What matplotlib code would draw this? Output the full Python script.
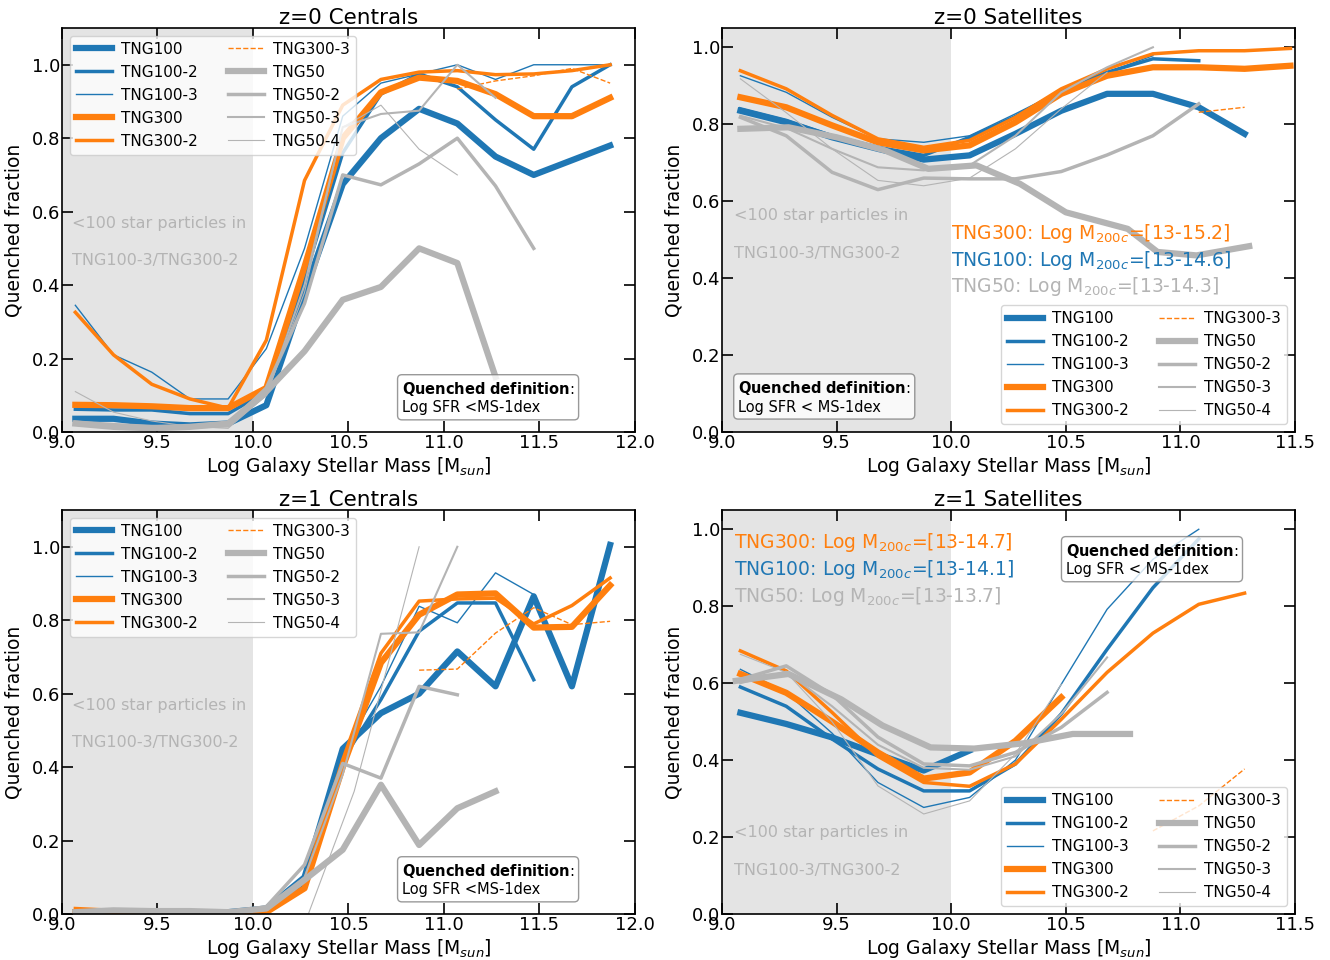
import numpy as np
import matplotlib.pyplot as plt

nan = np.nan

sim_names = ['TNG100', 'TNG100-2', 'TNG100-3', 'TNG300', 'TNG300-2', 'TNG300-3',
             'TNG50', 'TNG50-2', 'TNG50-3', 'TNG50-4']

# ---------------- z=0 centrals ----------------
z0c_mass = [9.07, 9.27, 9.47, 9.67, 9.87, 10.07, 10.27, 10.47, 10.67, 10.87, 11.07, 11.27, 11.47, 11.67, 11.87]
z0c_tng100   = [0.036, 0.036, 0.023, 0.018, 0.023, 0.073, 0.38, 0.675, 0.80, 0.88, 0.84, 0.75, 0.70, 0.74, 0.78]
z0c_tng100_2 = [0.062, 0.060, 0.060, 0.050, 0.050, 0.11, 0.42, 0.76, 0.92, 0.975, 0.94, 0.85, 0.77, 0.94, 1.0]
z0c_tng100_3 = [0.345, 0.21, 0.163, 0.09, 0.09, 0.227, 0.50, 0.86, 0.95, 0.975, 1.0, 0.96, 1.0, 1.0, 1.0]
z0c_tng300   = [0.074, 0.073, 0.07, 0.065, 0.065, 0.12, 0.45, 0.80, 0.925, 0.965, 0.956, 0.92, 0.86, 0.86, 0.91]
z0c_tng300_2 = [0.326, 0.21, 0.13, 0.09, 0.065, 0.25, 0.685, 0.89, 0.96, 0.98, 0.984, 0.973, 0.975, 0.984, 1.0]
z0c_tng300_3 = [nan, nan, nan, nan, nan, nan, nan, nan, nan, nan, 0.934, 0.956, 0.97, 0.99, 0.95]
z0c_tng50    = [0.023, 0.014, 0.01, 0.014, 0.023, 0.11, 0.22, 0.36, 0.395, 0.50, 0.46, 0.15, nan, nan, nan]
z0c_tng50_2  = [0.027, 0.02, 0.015, 0.015, 0.02, 0.12, 0.35, 0.70, 0.673, 0.73, 0.80, 0.67, 0.50, nan, nan]
z0c_tng50_3  = [0.02, 0.015, 0.012, 0.012, 0.015, 0.10, 0.40, 0.83, 0.866, 0.875, 1.0, 0.91, nan, nan, nan]
z0c_tng50_4  = [0.11, 0.054, 0.03, 0.015, 0.01, 0.10, 0.38, 0.83, 0.89, 0.77, 0.70, nan, nan, nan, nan]

# ---------------- z=0 satellites ----------------
z0s_mass = [9.08, 9.28, 9.48, 9.68, 9.88, 10.08, 10.28, 10.48, 10.68, 10.88, 11.08, 11.28, 11.48]
z0s_tng100   = [0.835, 0.805, 0.766, 0.736, 0.708, 0.719, 0.775, 0.835, 0.879, 0.879, 0.844, 0.775, nan]
z0s_tng100_2 = [0.84, 0.81, 0.77, 0.74, 0.719, 0.766, 0.82, 0.887, 0.935, 0.97, 0.965, nan, nan]
z0s_tng100_3 = [0.926, 0.883, 0.818, 0.762, 0.753, 0.77, 0.827, 0.887, 0.935, 0.978, nan, nan, nan]
z0s_tng300   = [0.87, 0.844, 0.797, 0.753, 0.732, 0.745, 0.805, 0.879, 0.926, 0.948, 0.948, 0.944, 0.952]
z0s_tng300_2 = [0.939, 0.892, 0.823, 0.762, 0.74, 0.758, 0.818, 0.892, 0.944, 0.983, 0.991, 0.991, 0.997]
z0s_tng300_3 = [nan, nan, nan, nan, nan, nan, nan, nan, nan, nan, 0.831, 0.844, nan]
z0s_tng50_mass = [9.08, 9.29, 9.5, 9.71, 9.9, 10.11, 10.3, 10.5, 10.77, 10.9, 11.07, 11.3]
z0s_tng50    = [0.788, 0.792, 0.766, 0.732, 0.684, 0.693, 0.645, 0.571, 0.528, 0.468, 0.459, 0.483]
z0s_tng50_2  = [0.818, 0.77, 0.675, 0.63, 0.66, 0.658, 0.658, 0.677, 0.72, 0.77, 0.853, nan, nan]
z0s_tng50_3  = [0.822, 0.79, 0.736, 0.688, 0.68, 0.693, 0.77, 0.883, 0.948, 1.0, nan, nan, nan]
z0s_tng50_4  = [0.918, 0.83, 0.736, 0.654, 0.64, 0.66, 0.736, 0.84, 0.935, nan, nan, nan, nan]

# ---------------- z=1 centrals ----------------
z1c_mass = [9.07, 9.27, 9.47, 9.67, 9.87, 10.07, 10.27, 10.47, 10.67, 10.87, 11.07, 11.27, 11.47, 11.67, 11.87]
z1c_tng100   = [0.005, 0.005, 0.005, 0.005, 0.005, 0.015, 0.10, 0.45, 0.547, 0.60, 0.715, 0.62, 0.865, 0.62, 1.005]
z1c_tng100_2 = [0.005, 0.005, 0.005, 0.005, 0.005, 0.015, 0.10, 0.42, 0.584, 0.77, 0.847, 0.847, 0.638, nan, nan]
z1c_tng100_3 = [0.003, 0.003, 0.003, 0.003, 0.003, 0.01, 0.08, 0.44, 0.62, 0.838, 0.793, 0.929, 0.87, nan, nan]
z1c_tng300   = [0.005, 0.005, 0.005, 0.005, 0.005, 0.005, 0.07, 0.40, 0.684, 0.815, 0.87, 0.873, 0.78, 0.782, 0.895]
z1c_tng300_2 = [0.015, 0.01, 0.008, 0.005, 0.005, 0.005, 0.09, 0.42, 0.71, 0.852, 0.858, 0.86, 0.79, 0.84, 0.915]
z1c_tng300_3 = [nan, nan, nan, nan, nan, nan, nan, nan, nan, 0.664, 0.667, 0.765, 0.834, 0.788, 0.797]
z1c_tng50    = [0.005, 0.01, 0.008, 0.008, 0.005, 0.015, 0.093, 0.175, 0.352, 0.188, 0.288, 0.334, nan, nan, nan]
z1c_tng50_2  = [0.005, 0.01, 0.008, 0.008, 0.005, 0.02, 0.134, 0.41, 0.37, 0.62, 0.597, nan, nan, nan, nan]
z1c_tng50_3  = [0.005, 0.008, 0.008, 0.008, 0.005, 0.015, 0.10, 0.38, 0.763, 0.767, 1.0, nan, nan, nan, nan]
z1c_tng50_4_mass = [10.07, 10.29, 10.53, 10.87]
z1c_tng50_4  = [0.0, 0.0, 0.334, 1.0]

# ---------------- z=1 satellites ----------------
z1s_mass = [9.08, 9.28, 9.48, 9.68, 9.88, 10.08, 10.28, 10.48, 10.68, 10.88, 11.08, 11.28]
z1s_tng100   = [0.523, 0.494, 0.459, 0.415, 0.373, 0.425, nan, nan, nan, nan, nan, nan]
z1s_tng100_2 = [0.59, 0.54, 0.455, 0.377, 0.32, 0.32, 0.39, 0.52, 0.688, 0.848, 0.975, nan]
z1s_tng100_3 = [0.636, 0.576, 0.47, 0.342, 0.277, 0.303, 0.40, 0.597, 0.792, 0.922, 1.0, nan]
z1s_tng300   = [0.624, 0.575, 0.50, 0.42, 0.352, 0.368, 0.45, 0.563, nan, nan, nan, nan]
z1s_tng300_2 = [0.684, 0.632, 0.524, 0.41, 0.342, 0.332, 0.39, 0.506, 0.628, 0.73, 0.805, 0.834]
z1s_tng300_3 = [nan, nan, nan, nan, nan, nan, nan, nan, nan, 0.216, 0.281, 0.377]
z1s_tng50_mass = [9.06, 9.29, 9.52, 9.7, 9.91, 10.1, 10.32, 10.53, 10.78]
z1s_tng50    = [0.606, 0.624, 0.558, 0.49, 0.433, 0.43, 0.444, 0.468, 0.468]
z1s_tng50_2  = [0.61, 0.645, 0.57, 0.46, 0.39, 0.385, 0.42, 0.485, 0.576, nan, nan, nan]
z1s_tng50_3  = [0.60, 0.63, 0.54, 0.44, 0.38, 0.375, 0.41, 0.52, 0.667, nan, nan, nan]
z1s_tng50_4  = [0.675, 0.628, 0.50, 0.333, 0.26, 0.294, 0.416, 0.597, nan, nan, nan, nan]

tng_blue = '#1f77b4'
tng_orange = '#ff7f0e'
tng_gray = '#b4b4b4'

styles = {
    'TNG100':   (tng_blue, 4.5, '-'),
    'TNG100-2': (tng_blue, 2.5, '-'),
    'TNG100-3': (tng_blue, 1.0, '-'),
    'TNG300':   (tng_orange, 4.5, '-'),
    'TNG300-2': (tng_orange, 2.5, '-'),
    'TNG300-3': (tng_orange, 1.0, '--'),
    'TNG50':    (tng_gray, 4.5, '-'),
    'TNG50-2':  (tng_gray, 2.5, '-'),
    'TNG50-3':  (tng_gray, 1.5, '-'),
    'TNG50-4':  (tng_gray, 0.8, '-'),
}


def grid(x, ys):
    return {n: (x, y) for n, y in zip(sim_names, ys)}


panel_z0c = grid(z0c_mass, [z0c_tng100, z0c_tng100_2, z0c_tng100_3, z0c_tng300, z0c_tng300_2,
                            z0c_tng300_3, z0c_tng50, z0c_tng50_2, z0c_tng50_3, z0c_tng50_4])
panel_z0s = grid(z0s_mass, [z0s_tng100, z0s_tng100_2, z0s_tng100_3, z0s_tng300, z0s_tng300_2,
                            z0s_tng300_3, z0s_tng50, z0s_tng50_2, z0s_tng50_3, z0s_tng50_4])
panel_z0s['TNG50'] = (z0s_tng50_mass, z0s_tng50)
panel_z1c = grid(z1c_mass, [z1c_tng100, z1c_tng100_2, z1c_tng100_3, z1c_tng300, z1c_tng300_2,
                            z1c_tng300_3, z1c_tng50, z1c_tng50_2, z1c_tng50_3, z1c_tng50_4])
panel_z1c['TNG50-4'] = (z1c_tng50_4_mass, z1c_tng50_4)
panel_z1s = grid(z1s_mass, [z1s_tng100, z1s_tng100_2, z1s_tng100_3, z1s_tng300, z1s_tng300_2,
                            z1s_tng300_3, z1s_tng50, z1s_tng50_2, z1s_tng50_3, z1s_tng50_4])
panel_z1s['TNG50'] = (z1s_tng50_mass, z1s_tng50)

qdef_bold = r'$\bf{Quenched\ definition}$:'


def draw(ax, series, xmax, ymax, title, legend_loc):
    ax.axvspan(9.0, 10.0, color='lightgray', alpha=0.6, lw=0, zorder=0)
    for name in sim_names:
        x, y = series[name]
        color, lw, ls = styles[name]
        ax.plot(x, y, color=color, lw=lw, ls=ls, label=name)
    ax.set_xlim(9.0, xmax)
    ax.set_ylim(0.0, ymax)
    ax.set_xticks(np.arange(9.0, xmax + 0.01, 0.5))
    ax.set_yticks(np.arange(0.0, 1.01, 0.2))
    ax.tick_params(direction='in', top=True, right=True, length=8, width=1.2,
                   labelsize=13, pad=1.5)
    for s in ax.spines.values():
        s.set_linewidth(1.2)
    ax.set_title(title, fontsize=15.5, pad=3)
    ax.set_xlabel(r'Log Galaxy Stellar Mass [M$_{sun}$]', fontsize=13.5, labelpad=2)
    ax.set_ylabel('Quenched fraction', fontsize=13.5, labelpad=6)
    ax.legend(loc=legend_loc, ncol=2, fontsize=11, handlelength=2.35, handletextpad=0.6,
              columnspacing=2.0, labelspacing=0.52)


def star_note(ax, y1, y2):
    ax.text(9.05, y1, '<100 star particles in', color=tng_gray, fontsize=11.5, va='center')
    ax.text(9.05, y2, 'TNG100-3/TNG300-2', color=tng_gray, fontsize=11.5, va='center')


def qdef(ax, x, y, txt, ha='left', va='bottom'):
    ax.text(x, y, qdef_bold + '\n' + txt, fontsize=10.5, ha=ha, va=va,
            bbox=dict(boxstyle='round,pad=0.3', fc='white', ec='gray', alpha=0.8))


def mhalo(ax, x, y0, dy, ranges):
    labels = ['TNG300', 'TNG100', 'TNG50']
    colors = [tng_orange, tng_blue, tng_gray]
    for i, (lab, col, rng) in enumerate(zip(labels, colors, ranges)):
        ax.text(x, y0 - i * dy, lab + r': Log M$_{200c}$=[' + rng + ']', color=col,
                fontsize=13.5, va='center')


fig = plt.figure(figsize=(13.3, 9.6), dpi=100)
ax1 = fig.add_axes([0.0466, 0.55, 0.4308, 0.4208])
ax2 = fig.add_axes([0.5429, 0.55, 0.4308, 0.4208])
ax3 = fig.add_axes([0.0466, 0.0479, 0.4308, 0.4208])
ax4 = fig.add_axes([0.5429, 0.0479, 0.4308, 0.4208])

# z=0 centrals
draw(ax1, panel_z0c, 12.0, 1.1, 'z=0 Centrals', 'upper left')
star_note(ax1, 0.567, 0.466)
qdef(ax1, 10.78, 0.045, 'Log SFR <MS-1dex')

# z=0 satellites
draw(ax2, panel_z0s, 11.5, 1.05, 'z=0 Satellites', 'lower right')
star_note(ax2, 0.564, 0.465)
mhalo(ax2, 10.0, 0.517, 0.07, ['13-15.2', '13-14.6', '13-14.3'])
qdef(ax2, 9.07, 0.045, 'Log SFR < MS-1dex')

# z=1 centrals
draw(ax3, panel_z1c, 12.0, 1.1, 'z=1 Centrals', 'upper left')
star_note(ax3, 0.567, 0.466)
qdef(ax3, 10.78, 0.045, 'Log SFR <MS-1dex')

# z=1 satellites
draw(ax4, panel_z1s, 11.5, 1.05, 'z=1 Satellites', 'lower right')
star_note(ax4, 0.212, 0.114)
mhalo(ax4, 9.05, 0.966, 0.07, ['13-14.7', '13-14.1', '13-13.7'])
qdef(ax4, 10.5, 0.875, 'Log SFR < MS-1dex')

fig.savefig('out.png', dpi=100)
